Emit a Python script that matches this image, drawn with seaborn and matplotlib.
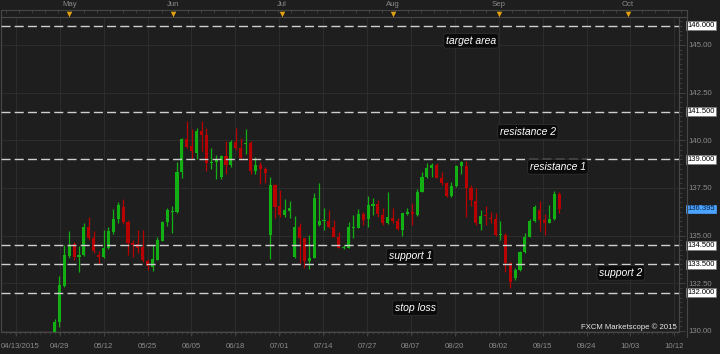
import numpy as np
import pandas as pd
import matplotlib
matplotlib.use("Agg")
import matplotlib.pyplot as plt
import matplotlib.transforms as mtransforms
from matplotlib.lines import Line2D
from matplotlib.ticker import MultipleLocator, FormatStrFormatter
import seaborn as sns

# ---------------- data ----------------
opens = [129.90, 129.60, 129.90, 130.46, 132.36, 133.93, 134.55, 133.86, 133.99, 135.47,
         134.86, 133.97, 133.90, 134.37, 135.20, 135.87, 136.49, 135.73, 134.62, 134.55,
         134.42, 133.67, 133.37, 133.72, 134.72, 135.70, 136.23, 136.26, 138.32, 140.07,
         139.70, 139.35, 140.49, 140.28, 138.81, 138.86, 138.08, 139.18, 138.70, 139.89,
         139.61, 139.82, 139.84, 138.39, 138.70, 138.49, 135.03, 137.66, 136.53, 136.08,
         136.29, 133.90, 135.44, 134.86, 133.69, 133.81, 135.56, 135.78, 135.79, 135.47,
         134.95, 134.33, 134.35, 135.40, 135.42, 136.12, 135.87, 136.57, 136.64, 136.08,
         135.65, 135.94, 135.79, 135.30, 136.15, 136.24, 136.08, 137.30, 138.09, 138.56,
         138.70, 138.04, 137.74, 137.08, 137.60, 138.65, 138.65, 137.48, 136.82, 135.61,
         136.07, 135.94, 135.87, 135.03, 135.03, 133.55, 132.76, 133.20, 134.16, 134.95,
         135.79, 136.35, 135.82, 135.68, 135.87, 137.18]
highs = [130.02, 129.90, 130.61, 132.88, 134.51, 135.24, 134.65, 134.47, 135.68, 135.96,
         135.26, 134.19, 135.30, 135.47, 136.38, 136.78, 136.92, 135.80, 134.77, 135.30,
         135.30, 133.75, 134.51, 134.95, 135.75, 136.42, 136.57, 138.85, 140.10, 141.01,
         140.60, 140.63, 141.01, 140.63, 139.57, 139.22, 139.25, 139.96, 140.00, 140.63,
         140.10, 140.60, 139.96, 139.14, 138.86, 138.62, 138.09, 137.70, 137.39, 136.92,
         136.82, 136.03, 135.65, 134.86, 135.03, 137.22, 137.74, 136.43, 136.35, 135.82,
         135.21, 134.50, 135.73, 136.08, 136.40, 136.26, 137.10, 136.96, 136.87, 136.43,
         137.30, 136.43, 135.91, 136.20, 136.47, 136.69, 137.45, 138.35, 138.79, 138.79,
         138.79, 138.35, 137.83, 137.83, 138.70, 138.91, 138.91, 137.66, 137.52, 136.35,
         136.57, 136.26, 136.17, 135.77, 135.12, 133.64, 133.29, 134.21, 135.16, 135.87,
         136.58, 136.80, 136.15, 136.60, 137.36, 137.27]
lows = [129.40, 129.20, 129.85, 130.23, 132.30, 133.85, 133.72, 133.11, 133.95, 134.77,
        134.10, 133.50, 133.85, 134.30, 135.10, 135.68, 135.60, 134.00, 133.90, 134.10,
        133.60, 133.20, 133.15, 133.70, 134.70, 135.50, 135.12, 136.20, 138.04, 139.60,
        139.00, 138.99, 139.43, 138.40, 138.50, 137.97, 137.97, 138.25, 138.60, 139.50,
        138.97, 139.27, 138.22, 138.22, 137.69, 137.74, 133.78, 135.91, 135.99, 135.99,
        135.94, 133.85, 133.55, 133.29, 133.25, 133.81, 135.52, 135.30, 135.40, 134.90,
        134.33, 134.30, 134.33, 134.86, 135.38, 135.56, 135.47, 136.08, 135.99, 135.56,
        135.60, 135.65, 135.30, 135.00, 136.08, 135.56, 136.05, 137.27, 138.04, 138.09,
        138.00, 137.66, 137.04, 137.04, 137.57, 138.22, 135.99, 136.53, 135.56, 135.30,
        135.56, 135.65, 135.00, 134.77, 133.11, 132.24, 132.68, 133.15, 134.10, 134.90,
        135.70, 135.26, 135.03, 135.66, 135.82, 136.17]
closes = [129.60, 129.80, 130.49, 132.41, 133.99, 134.51, 133.86, 133.99, 135.47, 134.86,
          134.19, 133.90, 134.37, 135.24, 135.87, 136.60, 135.73, 134.60, 134.52, 134.35,
          133.72, 133.42, 133.76, 134.77, 135.70, 136.35, 136.28, 138.35, 140.07, 139.66,
          139.45, 140.49, 140.28, 138.79, 138.86, 138.97, 139.18, 138.70, 139.89, 139.58,
          139.09, 139.86, 138.39, 138.70, 138.48, 138.30, 137.66, 136.49, 136.08, 136.35,
          136.45, 135.47, 134.86, 133.69, 133.85, 136.96, 135.79, 135.80, 135.47, 134.95,
          134.37, 134.42, 135.47, 135.44, 136.12, 135.82, 136.60, 136.64, 136.12, 135.68,
          135.99, 135.77, 135.33, 136.17, 136.22, 136.12, 137.30, 138.09, 138.53, 138.70,
          138.04, 137.74, 137.08, 137.60, 138.67, 138.85, 137.48, 136.85, 135.65, 136.03,
          136.03, 135.87, 135.03, 135.10, 133.55, 132.59, 133.20, 134.16, 134.95, 135.79,
          136.49, 135.82, 135.68, 135.87, 137.18, 136.395]

date_labels = ["04/13/2015", "04/29", "05/12", "05/25", "06/05", "06/18", "07/01", "07/14",
               "07/27", "08/07", "08/20", "09/02", "09/15", "09/24", "10/03", "10/12"]
date_ticks = [-5.9, 3.06, 12.02, 20.98, 29.94, 38.9, 47.86, 56.82,
              65.78, 74.74, 83.7, 92.66, 101.62, 110.58, 119.54, 128.5]
month_labels = ["May", "Jun", "Jul", "Aug", "Sep", "Oct"]
month_ticks = [5.0, 26.2, 48.4, 71.0, 92.7, 119.0]

level_values = [146.0, 141.5, 139.0, 134.5, 133.5, 132.0]
level_texts = ["146.000", "141.500", "139.000", "134.500", "133.500", "132.000"]
note_texts = ["target area", "resistance 2", "resistance 1", "support 1", "support 2", "stop loss"]
note_x = [87.0, 98.6, 104.7, 74.6, 117.6, 75.6]
note_y = [145.21, 140.44, 138.60, 133.93, 133.04, 131.20]
last_price = 136.395
last_text = "136.395"

# ---------------- style ----------------
BG = "#1e1e1e"
GRID = "#2c2c2c"
SPINE = "#474747"
TXT = "#8a8a8a"
UP = "#12b012"
DOWN = "#b80000"

sns.set_theme(style="dark", rc={"axes.facecolor": BG, "figure.facecolor": BG,
                                "savefig.facecolor": BG, "axes.edgecolor": SPINE})
plt.rcParams["font.family"] = ["Liberation Sans", "DejaVu Sans"]

df = pd.DataFrame({"open": opens, "high": highs, "low": lows, "close": closes})
df["idx"] = np.arange(len(df))
df["up"] = df["close"] >= df["open"]
df["body_lo"] = df[["open", "close"]].min(axis=1)
df["body_h"] = (df["open"] - df["close"]).abs().clip(lower=0.06)
df["color"] = np.where(df["up"], UP, DOWN)

W, H = 720, 354
def frac(x0, y0, x1, y1):
    return [x0 / W, 1 - y1 / H, (x1 - x0) / W, (y1 - y0) / H]

X0PX, BARPX = 44.7, 4.9
def px2bar(px):
    return (px - X0PX) / BARPX

fig = plt.figure(figsize=(7.2, 3.54), dpi=100)
ax = fig.add_axes(frac(1, 17, 679, 331.5))
ax.set_facecolor(BG)
ax.set_xlim(px2bar(1), px2bar(679))
ymin = 129.97
ax.set_ylim(ymin, ymin + 314.5 / 19.07)

# grid
ax.set_xticks(date_ticks)
ax.set_xticklabels(date_labels)
ax.xaxis.set_minor_locator(MultipleLocator(1))
ax.yaxis.tick_right()
ax.yaxis.set_major_locator(MultipleLocator(2.5))
ax.yaxis.set_minor_locator(MultipleLocator(0.25))
ax.yaxis.set_major_formatter(FormatStrFormatter("%.2f"))
ax.grid(True, which="major", color=GRID, lw=0.8, zorder=0)
ax.set_axisbelow(True)

ax.tick_params(axis="x", which="major", length=3, width=0.6, color=SPINE,
               labelsize=5.6, labelcolor=TXT, pad=5, direction="out", bottom=True)
ax.tick_params(axis="x", which="minor", length=1.5, width=0.5, color=SPINE,
               direction="out", bottom=True)
ax.tick_params(axis="y", which="major", length=4, width=0.6, color=SPINE,
               labelsize=5.6, labelcolor=TXT, pad=3, direction="out", right=True)
ax.tick_params(axis="y", which="minor", length=2, width=0.5, color=SPINE,
               direction="out", right=True)
for s in ax.spines.values():
    s.set_color(SPINE)
    s.set_linewidth(0.8)

# first date label starts at the left edge, as in the reference
first = ax.get_xticklabels()[0]
first.set_horizontalalignment("left")
first.set_transform(first.get_transform() +
                    mtransforms.ScaledTranslation(-0.155, 0, fig.dpi_scale_trans))

# candles
ax.vlines(df["idx"], df["low"], df["high"], colors=df["color"], lw=0.9, zorder=3)
ax.bar(df["idx"], df["body_h"], bottom=df["body_lo"], width=0.64, color=df["color"],
       linewidth=0, zorder=4)

# level lines
for v in level_values:
    ax.axhline(v, color="#cfcfcf", lw=1.0, dashes=(6.5, 3), zorder=5)

# price boxes on the right
blend = mtransforms.blended_transform_factory(ax.transAxes, ax.transData)
xbox = (701 - 1) / 678
for v, t in zip(level_values, level_texts):
    ax.text(xbox, v, t, transform=blend, ha="center", va="center", fontsize=5.5,
            color="black", clip_on=False, zorder=10,
            bbox=dict(boxstyle="square,pad=0.12", fc="white", ec="#777777", lw=0.5))
ax.text(xbox, last_price, last_text, transform=blend, ha="center", va="center",
        fontsize=5.5, color="#0b1e3a", clip_on=False, zorder=10,
        bbox=dict(boxstyle="square,pad=0.12", fc="#4aa3ff", ec="#4aa3ff", lw=0.5))

# notes
for t, x, y in zip(note_texts, note_x, note_y):
    ax.text(x, y, t, ha="center", va="center", color="white", fontsize=7.5,
            style="italic", zorder=8,
            bbox=dict(boxstyle="round,pad=0.22,rounding_size=0.25", fc="#0b0b0b",
                      ec="#2e2e2e", lw=0.6))

ax.text((677 - 1) / 678, (331.5 - 327.5) / 314.5, "FXCM Marketscope \u00a9 2015",
        transform=ax.transAxes, ha="right", va="center", fontsize=5.6,
        color="#e6e6e6", zorder=9)

# top month strip
axt = fig.add_axes(frac(1, 10, 687, 17))
axt.set_facecolor(BG)
axt.set_xlim(px2bar(1), px2bar(687))
axt.set_ylim(0, 1)
axt.set_yticks([])
axt.xaxis.tick_top()
axt.set_xticks(month_ticks)
axt.set_xticklabels(month_labels)
axt.xaxis.set_minor_locator(MultipleLocator(2.65))
axt.tick_params(axis="x", which="major", length=0, labelsize=5.6, labelcolor=TXT, pad=1.2)
axt.tick_params(axis="x", which="minor", length=2.2, width=0.5, color=SPINE,
                direction="in", top=True)
for s in axt.spines.values():
    s.set_color(SPINE)
    s.set_linewidth(0.8)
axt.scatter(month_ticks, [0.42] * len(month_ticks), marker="v", s=16,
            color="#e0a010", linewidths=0, zorder=5, clip_on=False)

# right frame line
fig.add_artist(Line2D([687 / W, 687 / W], [1 - 17 / H, 1 - 337 / H],
                      color=SPINE, lw=0.8))

fig.savefig("out.png", dpi=100, facecolor=BG)
